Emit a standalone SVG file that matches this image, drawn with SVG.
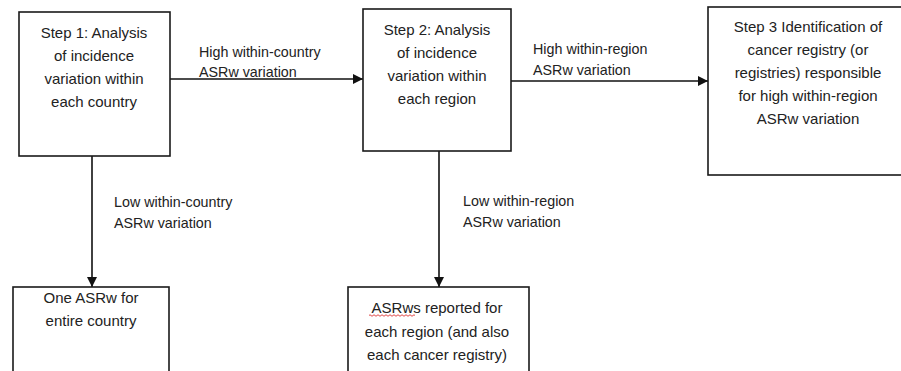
<svg xmlns="http://www.w3.org/2000/svg" width="901" height="371" viewBox="0 0 901 371">
<style>
.box{fill:#fff;stroke:#1a1a1a;stroke-width:1.6}
.t{font-family:"Liberation Sans",Arial,sans-serif;font-size:15px;fill:#222;text-anchor:middle}
.l{font-family:"Liberation Sans",Arial,sans-serif;font-size:14.3px;fill:#222}
.c{stroke:#111;stroke-width:1.6;fill:none;marker-end:url(#ah)}
</style>
<defs>
<marker id="ah" markerWidth="10" markerHeight="10" refX="10" refY="5" orient="auto" markerUnits="userSpaceOnUse">
<path d="M0,0 L10,5 L0,10 Z" fill="#111"/>
</marker>
</defs>
<rect width="901" height="371" fill="#fff"/>
<g id="connectors">
<line class="c" x1="170" y1="79" x2="363" y2="79"/>
<line class="c" x1="511" y1="81" x2="708" y2="81"/>
<line class="c" x1="92" y1="156" x2="92" y2="287"/>
<line class="c" x1="439" y1="151" x2="439" y2="287"/>
<text class="l" x="199" y="57">High within-country</text>
<text class="l" x="199" y="77">ASRw variation</text>
<text class="l" x="533" y="54">High within-region</text>
<text class="l" x="533" y="75">ASRw variation</text>
<text class="l" x="114" y="207">Low within-country</text>
<text class="l" x="114" y="228">ASRw variation</text>
<text class="l" x="463" y="206">Low within-region</text>
<text class="l" x="463" y="227">ASRw variation</text>
</g>
<g id="step1">
<rect class="box" x="19" y="12" width="151" height="144"/>
<text class="t" x="94" y="38">Step 1: Analysis</text>
<text class="t" x="94" y="61">of incidence</text>
<text class="t" x="94" y="84">variation within</text>
<text class="t" x="94" y="107">each country</text>
</g>
<g id="step2">
<rect class="box" x="363" y="9" width="148" height="142"/>
<text class="t" x="437" y="35">Step 2: Analysis</text>
<text class="t" x="437" y="58">of incidence</text>
<text class="t" x="437" y="81">variation within</text>
<text class="t" x="437" y="104">each region</text>
</g>
<g id="step3">
<rect class="box" x="708" y="7" width="200" height="168"/>
<text class="t" x="808" y="32">Step 3 Identification of</text>
<text class="t" x="808" y="55">cancer registry (or</text>
<text class="t" x="808" y="78">registries) responsible</text>
<text class="t" x="808" y="101">for high within-region</text>
<text class="t" x="808" y="124">ASRw variation</text>
</g>
<g id="one-asrw">
<rect class="box" x="13" y="287" width="156" height="100"/>
<text class="t" x="91" y="303">One ASRw for</text>
<text class="t" x="91" y="326">entire country</text>
</g>
<g id="asrws-reported">
<rect class="box" x="348" y="287" width="181" height="100"/>
<text class="t" x="437" y="313">ASRws reported for</text>
<text class="t" x="437" y="337">each region (and also</text>
<text class="t" x="437" y="360">each cancer registry)</text>
<path d="M369,315.5 q1,-1.5 2,0 t2,0 t2,0 t2,0 t2,0 t2,0 t2,0 t2,0 t2,0 t2,0 t2,0 t2,0 t2,0 t2,0 t2,0 t2,0 t2,0 t2,0 t2,0 t2,0 t2,0 t2,0 t2,0" fill="none" stroke="#d33" stroke-width="0.9"/>
</g>
</svg>
